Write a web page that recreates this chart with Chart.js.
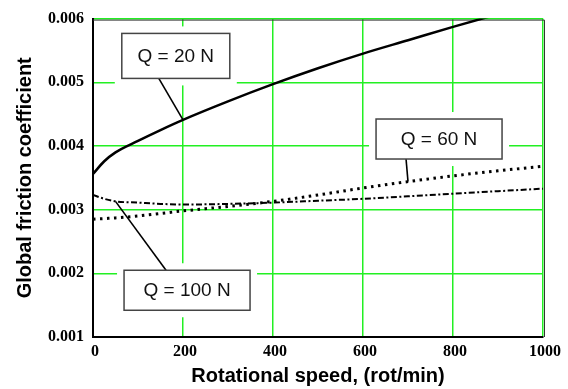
<!DOCTYPE html>
<html><head><meta charset="utf-8">
<script src="https://cdn.jsdelivr.net/npm/chart.js@4/dist/chart.umd.min.js"></script>
<style>html,body{margin:0;padding:0;background:#fff}#wrap{width:568px;height:389px;position:relative}</style>
</head><body><div id="wrap"><canvas id="c" width="568" height="389"></canvas></div>
<script>
// ---- data ----
const speeds = [0, 25, 50, 100, 150, 200, 300, 400, 500, 600, 700, 800, 900, 1000];
const q20  = [0.00356, 0.00376, 0.00390, 0.00408, 0.00425, 0.00441, 0.00470, 0.00497, 0.00522, 0.00545, 0.00566, 0.00587, 0.00607, 0.00626];
const q60  = [0.00285, 0.00286, 0.00287, 0.00290, 0.00294, 0.00298, 0.00305, 0.00313, 0.00323, 0.00334, 0.00344, 0.00353, 0.00361, 0.00368];
const q100 = [0.00323, 0.00317, 0.00313, 0.00311, 0.00309, 0.00308, 0.00309, 0.00311, 0.00314, 0.00317, 0.00321, 0.00325, 0.00329, 0.00333];
const seriesNames = ['Q = 20 N', 'Q = 60 N', 'Q = 100 N'];
const xTicks = [0, 200, 400, 600, 800, 1000];
const yTicks = ['0.001', '0.002', '0.003', '0.004', '0.005', '0.006'];
const xTitle = 'Rotational speed, (rot/min)';
const yTitle = 'Global friction coefficient';

const toPts = arr => speeds.map((s, i) => ({x: s, y: arr[i]}));

// callout boxes: centre in data units, anchor = data point index on the series
const callouts = [
  {text: seriesNames[0], cx: 184, cy: 0.005414, w: 108, h: 45, series: q20,  idx: 5,  lx: -17, edge: 'bottom'},
  {text: seriesNames[1], cx: 769, cy: 0.004109, w: 126, h: 40, series: q60,  idx: 10, lx: -33, edge: 'bottom'},
  {text: seriesNames[2], cx: 209, cy: 0.001734, w: 126, h: 40, series: q100, idx: 2,  lx: -21, edge: 'top'}
];

const calloutPlugin = {
  id: 'callouts',
  beforeDatasetsDraw(chart) {
    const {ctx, scales: {x, y}, chartArea: ca} = chart;
    ctx.save();
    // thin dark frame line along top and right (under the green grid edge)
    ctx.strokeStyle = '#333';
    ctx.lineWidth = 1;
    ctx.beginPath();
    ctx.moveTo(ca.left, ca.top + 1.5); ctx.lineTo(ca.right + 1.5, ca.top + 1.5);
    ctx.lineTo(ca.right + 1.5, ca.bottom);
    ctx.stroke();
    callouts.forEach(c => {
      const px = x.getPixelForValue(c.cx), py = y.getPixelForValue(c.cy);
      const l = px - c.w / 2, t = py - c.h / 2;
      ctx.fillStyle = '#fff';
      ctx.fillRect(l - 7, t - 7, c.w + 14, c.h + 14);
      const ax = x.getPixelForValue(speeds[c.idx]), ay = y.getPixelForValue(c.series[c.idx]);
      ctx.strokeStyle = '#000';
      ctx.lineWidth = 1.6;
      ctx.beginPath();
      ctx.moveTo(px + c.lx, c.edge === 'bottom' ? t + c.h : t);
      ctx.lineTo(ax, ay);
      ctx.stroke();
      ctx.fillStyle = '#fff';
      ctx.fillRect(l, t, c.w, c.h);
      ctx.strokeStyle = '#444';
      ctx.lineWidth = 1.5;
      ctx.strokeRect(l, t, c.w, c.h);
      ctx.fillStyle = '#111';
      ctx.font = '19px "Liberation Sans", Arial, sans-serif';
      ctx.textAlign = 'center';
      ctx.textBaseline = 'middle';
      ctx.fillText(c.text, px, py + 1);
    });
    ctx.restore();
  }
};

const gridGreen = '#22f022';
new Chart(document.getElementById('c'), {
  type: 'line',
  data: {
    datasets: [
      {label: seriesNames[0], data: toPts(q20), borderColor: '#000', borderWidth: 2.5, pointRadius: 0, cubicInterpolationMode: 'monotone', fill: false},
      {label: seriesNames[1], data: toPts(q60), borderColor: '#000', borderWidth: 3, borderDash: [2.5, 4.5], borderCapStyle: 'butt', pointRadius: 0, cubicInterpolationMode: 'monotone', fill: false},
      {label: seriesNames[2], data: toPts(q100), borderColor: '#000', borderWidth: 2, borderDash: [6, 2.5, 2, 2.5], borderCapStyle: 'butt', pointRadius: 0, cubicInterpolationMode: 'monotone', fill: false}
    ]
  },
  options: {
    responsive: false,
    devicePixelRatio: 1,
    animation: false,
    layout: {padding: {top: 15, right: 25, left: 0, bottom: 0}},
    plugins: {legend: {display: false}, tooltip: {enabled: false}},
    scales: {
      x: {
        type: 'linear', min: xTicks[0], max: xTicks[xTicks.length - 1],
        afterBuildTicks: s => { s.ticks = xTicks.map(v => ({value: v})); },
        afterFit: s => { s.height = 52; },
        grid: {color: gridGreen, lineWidth: 1.5, drawTicks: false},
        border: {display: true, color: '#000', width: 2},
        ticks: {color: '#000', padding: 5, labelOffset: 2, maxRotation: 0, autoSkip: false,
          font: {family: '"Liberation Serif", "Times New Roman", serif', size: 16, weight: 'bold'},
          callback: v => String(v)},
        title: {display: true, text: xTitle, color: '#000', padding: {top: 0, bottom: 1},
          font: {family: '"Liberation Sans", Arial, sans-serif', size: 20, weight: 'bold'}}
      },
      y: {
        type: 'linear', min: Number(yTicks[0]), max: Number(yTicks[yTicks.length - 1]),
        afterBuildTicks: s => { s.ticks = yTicks.map(v => ({value: Number(v)})); },
        afterFit: s => { s.width = 93; },
        grid: {color: gridGreen, lineWidth: 1.5, drawTicks: false},
        border: {display: true, color: '#000', width: 2},
        ticks: {color: '#000', padding: 9, autoSkip: false,
          font: {family: '"Liberation Serif", "Times New Roman", serif', size: 16, weight: 'bold'},
          callback: (v, i) => yTicks[i]},
        title: {display: true, text: yTitle, color: '#000', padding: {top: 13, bottom: 0},
          font: {family: '"Liberation Sans", Arial, sans-serif', size: 20, weight: 'bold'}}
      }
    }
  },
  plugins: [calloutPlugin]
});
</script>
</body></html>
